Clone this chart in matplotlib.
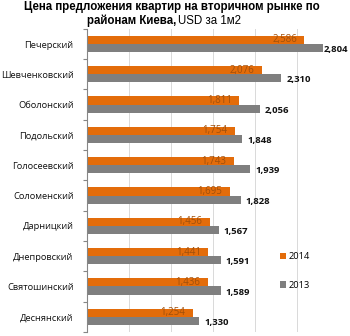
import numpy as np
import matplotlib.pyplot as plt

districts = ["Печерский", "Шевченковский", "Оболонский", "Подольский", "Голосеевский",
             "Соломенский", "Дарницкий", "Днепровский", "Святошинский", "Деснянский"]
price_2014 = [2586, 2076, 1811, 1754, 1743, 1695, 1456, 1441, 1436, 1254]
price_2013 = [2804, 2310, 2056, 1848, 1939, 1828, 1567, 1591, 1589, 1330]
years = ["2014", "2013"]

ORANGE, GREY, LBL14 = "#e36c0a", "#7f7f7f", "#a0500c"
plt.rcParams["font.family"] = ["Open Sans", "DejaVu Sans"]

fig = plt.figure(figsize=(3.5, 3.36), dpi=100)
ax = fig.add_axes([0.2497, 0.0123, 0.7193, 0.9018])

y = np.arange(len(districts))
h = 0.27
b14 = ax.barh(y - h / 2, price_2014, height=h, color=ORANGE, label=years[0])
b13 = ax.barh(y + h / 2, price_2013, height=h, color=GREY, label=years[1])

for rect, v in zip(b14, price_2014):
    ax.text(v - 90, rect.get_y() + rect.get_height() / 2, f"{v:,}", ha="right", va="center",
            fontsize=7, color=LBL14)
for rect, v in zip(b13, price_2013):
    pad = 60 if v < 2700 else 12   # the longest bar leaves little room at the edge
    ax.text(v + pad, rect.get_y() + rect.get_height() / 2 + 0.05, f"{v:,}", ha="left", va="center",
            fontsize=6.8, color="#111111", fontweight="bold")

ax.set_xlim(0, 3000)
ax.set_ylim(len(districts) - 0.5, -0.5)
ax.set_xticks(np.arange(500, 3001, 500))
ax.xaxis.grid(True, color="#d9d9d9", lw=0.7)
ax.set_axisbelow(True)
ax.tick_params(axis="x", length=0, labelbottom=False)
ax.set_yticks(y)
ax.set_yticklabels(districts, fontsize=6.7, color="#111111")
ax.tick_params(axis="y", which="major", length=0, pad=10)
ax.set_yticks(np.arange(-0.5, len(districts) + 0.5, 1), minor=True)
ax.tick_params(axis="y", which="minor", length=3, color="#868686", width=0.8)
for s in ("top", "right", "bottom"):
    ax.spines[s].set_visible(False)
ax.spines["left"].set_color("#868686")
ax.spines["left"].set_linewidth(0.8)

ax.legend(loc="upper left", bbox_to_anchor=(0.73, 0.29), frameon=False, fontsize=6.7,
          handlelength=0.7, handleheight=0.7, handletextpad=0.3, labelspacing=2.1)

fig.text(0.492, 0.979, "Цена предложения квартир на вторичном рынке по", ha="center", va="center",
         fontsize=8.3, fontweight="bold", family=["Liberation Sans", "DejaVu Sans"])
fig.text(0.503, 0.9375, "районам Киева,", ha="right", va="center",
         fontsize=8.3, fontweight="bold", family=["Liberation Sans", "DejaVu Sans"])
fig.text(0.509, 0.9375, "USD за 1м2", ha="left", va="center",
         fontsize=8.3, family=["Liberation Sans", "DejaVu Sans"])

fig.savefig("out.png", dpi=100)
